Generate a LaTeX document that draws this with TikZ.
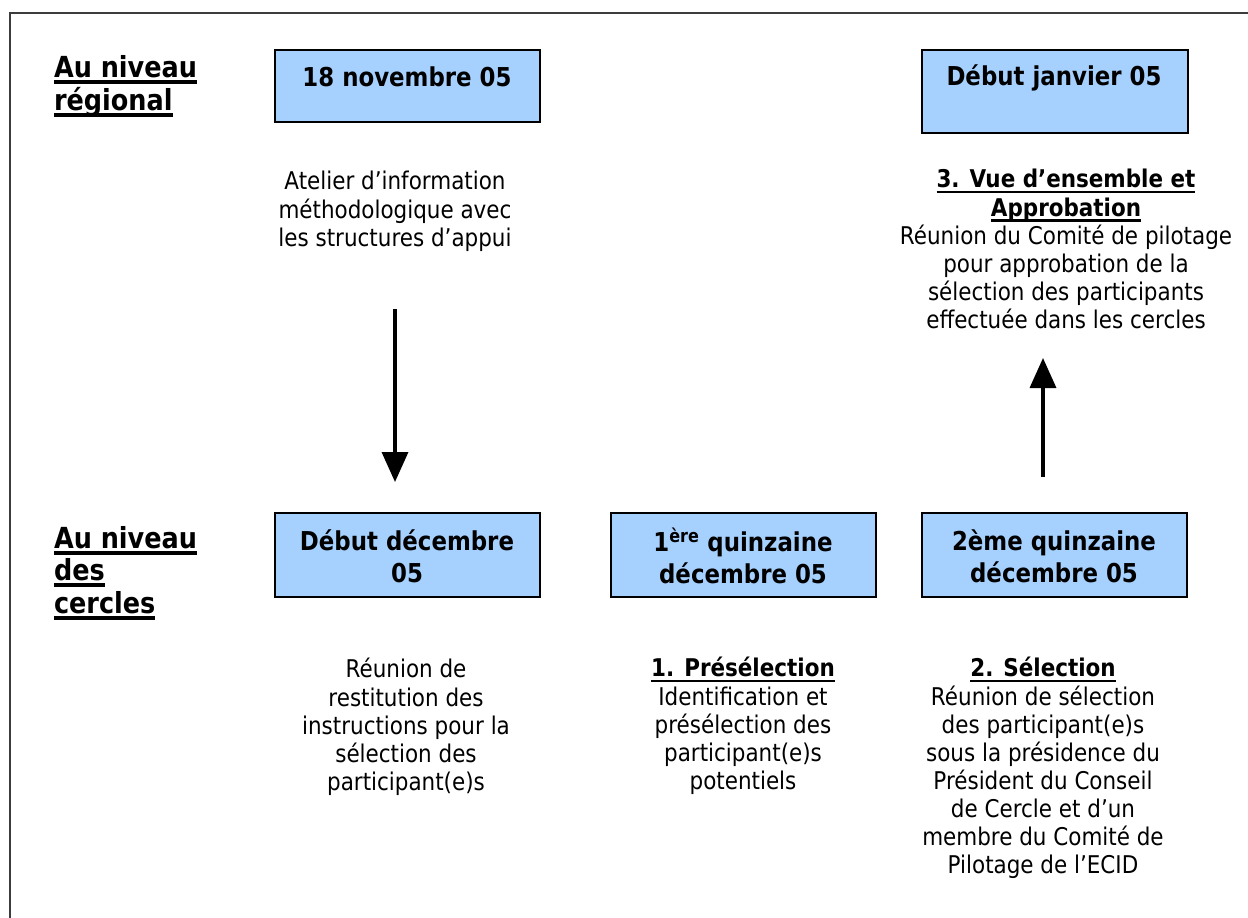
\documentclass[tikz,border=0pt]{standalone}
\usepackage{fontspec}
\setmainfont{DejaVu Sans}[FakeStretch=0.88]
\usetikzlibrary{arrows.meta}
\definecolor{boxblue}{RGB}{166,209,255}
\definecolor{framegray}{RGB}{60,60,60}
\newsavebox\ulbox
\newcommand\myul[3]{\sbox\ulbox{#3}\rlap{\vrule height -#1 depth \dimexpr#1+#2\relax width \wd\ulbox}\usebox\ulbox}
\newcommand\bul[1]{\myul{3pt}{2.5pt}{\bfseries #1}}
\newcommand\lul[1]{\myul{2.5pt}{4pt}{#1}}
\begin{document}
\begin{tikzpicture}[x=1pt,y=-1pt,
  datebox/.style={draw=black, line width=2pt, fill=boxblue, inner sep=0pt},
  head/.style={font=\bfseries\fontsize{26}{32}\selectfont, align=center, inner sep=0pt, outer sep=0pt, anchor=north},
  body/.style={font=\fontsize{24.4}{28.1}\selectfont, align=center, inner sep=0pt, outer sep=0pt, anchor=north},
  lab/.style={font=\bfseries\fontsize{29}{32.5}\selectfont, align=left, inner sep=0pt, outer sep=0pt, anchor=north west},
  arr/.style={line width=3.5pt, -{Triangle[width=26pt,length=30pt]}},
  frame/.style={draw=framegray, line width=2pt}]
\useasboundingbox (0,0) rectangle (1248,918);
\draw[frame] (10,13) rectangle (1275,945);

% level labels
\node[lab] (lreg) at (54,54.25) {\strut\lul{Au niveau}\\\lul{régional}};
\node[lab] (lcer) at (54,525.25) {\strut\lul{Au niveau}\\\lul{des}\\\lul{cercles}};

% date boxes
\node[datebox, minimum width=265, minimum height=72] (b1) at (407.5,86) {};
\node[datebox, minimum width=266, minimum height=83] (b2) at (1055,91.5) {};
\node[datebox, minimum width=265, minimum height=84] (bA) at (407.5,555) {};
\node[datebox, minimum width=265, minimum height=84] (bB) at (743.5,555) {};
\node[datebox, minimum width=265, minimum height=84] (bC) at (1054.5,555) {};

\node[head] (h1) at (407,63.6) {\strut 18 novembre 05};
\node[head] (h2) at (1054,62.6) {\strut Début janvier 05};
\node[head] (hA) at (407,527.6) {\strut Début décembre\\05};
\node[head] (hB) at (743,527.6) {\strut 1\textsuperscript{ère} quinzaine\\décembre 05};
\node[head] (hC) at (1054,527.6) {\strut 2ème quinzaine\\décembre 05};

% descriptions
\node[body] (t1) at (395,170.3) {\strut Atelier d’information\\méthodologique avec\\les structures d’appui};
\node[body] (t2) at (1066,168.3) {\strut\bul{3. Vue d’ensemble et}\\\bul{Approbation}\\Réunion du Comité de pilotage\\pour approbation de la\\sélection des participants\\effectuée dans les cercles};
\node[body] (tA) at (406,658.3) {\strut Réunion de\\restitution des\\instructions pour la\\sélection des\\participant(e)s};
\node[body] (tB) at (743,657.3) {\strut\bul{1. Présélection}\\Identification et\\présélection des\\participant(e)s\\potentiels};
\node[body] (tC) at (1043,657.3) {\strut\bul{2. Sélection}\\Réunion de sélection\\des participant(e)s\\sous la présidence du\\Président du Conseil\\de Cercle et d’un\\membre du Comité de\\Pilotage de l’ECID};

% arrows
\coordinate (d1) at (395,309);
\coordinate (d2) at (395,482);
\coordinate (u1) at (1043,477);
\coordinate (u2) at (1043,358);
\draw[arr] (d1) -- (d2);
\draw[arr] (u1) -- (u2);
\end{tikzpicture}
\end{document}
